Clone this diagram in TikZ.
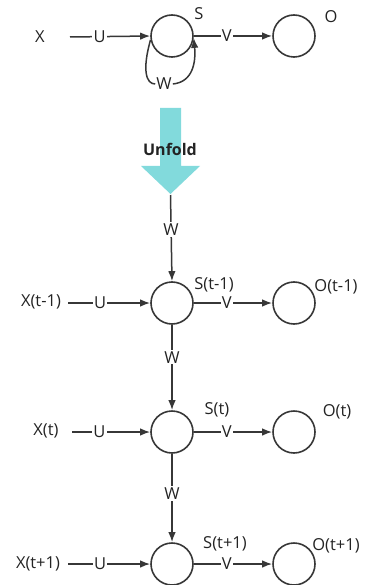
\documentclass[tikz,border=0pt]{standalone}
\usepackage{fontspec}
\setmainfont{Open Sans}
\usetikzlibrary{arrows.meta}
\definecolor{ink}{RGB}{55,55,55}
\definecolor{txt}{RGB}{35,35,35}
\definecolor{unfoldcyan}{RGB}{130,218,220}
\begin{document}
\begin{tikzpicture}[x=1pt,y=-1pt,
  unit/.style={circle,draw=ink,line width=1.6pt,minimum size=42pt,inner sep=0pt},
  lbl/.style={text=txt,font=\fontsize{16.5}{18}\selectfont,inner sep=1pt},
  wire/.style={draw=ink,line width=1.5pt},
  arr/.style={wire,-{Latex[length=10pt,width=7.5pt]}},
  onwire/.style={lbl,fill=white,inner sep=1.2pt}]
\useasboundingbox (0,0) rectangle (367,585);

% folded network
\node[unit] (S) at (172,36) {};
\node[unit] (O) at (294,36) {};
\node[lbl] (X) at (40,37) {X};
\node[lbl] (Sl) at (199,14) {S};
\node[lbl] (Ol) at (331,17) {O};
\coordinate (xa) at (70,37);
\draw[arr] (xa) -- node[onwire,pos=0.37] (u0) {U} (S.west);
\draw[arr] (S.east) -- node[onwire,pos=0.42] (v0) {V} (O.west);
\node[lbl] (w0) at (164,84) {W};
\draw[wire] (S.190) .. controls (142,70) and (146,84) .. (w0.west);
\draw[arr] (w0.east) .. controls (193,82) and (196,62) .. (S.-5);

% unfold arrow
\fill[unfoldcyan] (160,108) -- (181,108) -- (181,166) -- (200,166) -- (170.5,194)
  -- (141,166) -- (160,166) -- cycle;
\node[text=txt,font=\bfseries\fontsize{16}{18}\selectfont] (unf) at (170,149) {Unfold};
\coordinate (tip) at (170.5,195);

% unrolled network
\node[unit] (S1) at (172,303) {};
\node[unit] (O1) at (294,303) {};
\node[unit] (S2) at (172,432) {};
\node[unit] (O2) at (294,432) {};
\node[unit] (S3) at (172,564) {};
\node[unit] (O3) at (294,564) {};

\node[lbl] (X1) at (41,302) {X(t-1)};
\node[lbl] (X2) at (46,431) {X(t)};
\node[lbl] (X3) at (38,564) {X(t+1)};
\node[lbl] (S1l) at (214,285) {S(t-1)};
\node[lbl] (S2l) at (217,410) {S(t)};
\node[lbl] (S3l) at (225,544) {S(t+1)};
\node[lbl] (O1l) at (336,287) {O(t-1)};
\node[lbl] (O2l) at (337,412) {O(t)};
\node[lbl] (O3l) at (336,546) {O(t+1)};

\coordinate (xa1) at (68,303);
\coordinate (xa2) at (72,432);
\coordinate (xa3) at (68,564);
\draw[arr] (xa1) -- node[onwire,pos=0.39] (u1) {U} (S1.west);
\draw[arr] (xa2) -- node[onwire,pos=0.35] (u2) {U} (S2.west);
\draw[arr] (xa3) -- node[onwire,pos=0.39] (u3) {U} (S3.west);
\draw[arr] (S1.east) -- node[onwire,pos=0.42] (v1) {V} (O1.west);
\draw[arr] (S2.east) -- node[onwire,pos=0.42] (v2) {V} (O2.west);
\draw[arr] (S3.east) -- node[onwire,pos=0.42] (v3) {V} (O3.west);

\draw[arr] (tip) -- node[onwire,pos=0.4] (w1) {W} (S1.north);
\draw[arr] (S1.south) -- node[onwire,pos=0.38] (w2) {W} (S2.north);
\draw[arr] (S2.south) -- node[onwire,pos=0.45] (w3) {W} (S3.north);
\end{tikzpicture}
\end{document}
